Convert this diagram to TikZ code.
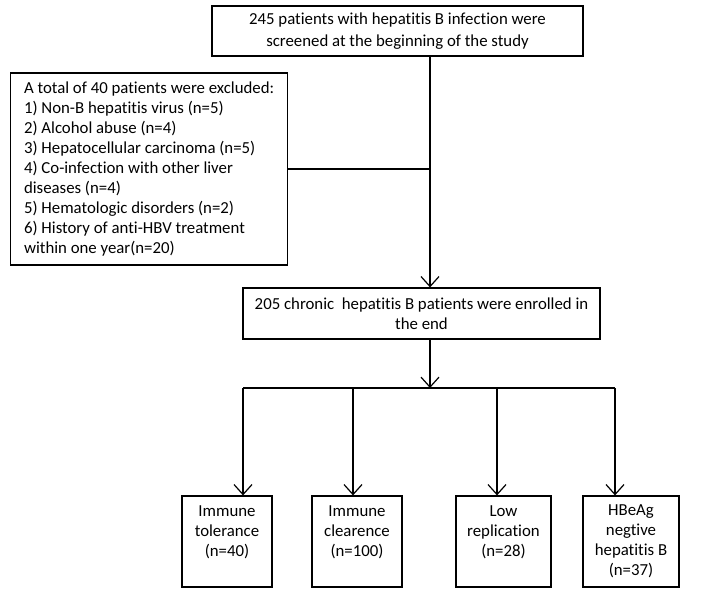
\documentclass[tikz,border=0pt]{standalone}
\usepackage{fontspec}
\setmainfont{Carlito}[Ligatures={NoCommon}]
\usetikzlibrary{arrows,arrows.meta,calc}
\tikzset{
>={Straight Barb[length=5pt,width=9pt]},
box/.style={draw,line width=0.6pt,inner sep=0pt,align=center},
freccia/.style={->,line width=0.6pt},
linea/.style={line width=0.6pt}}

\begin{document}
\begin{tikzpicture}[x=0.5pt,y=-0.5pt,font=\fontsize{8.4}{10}\selectfont]
\useasboundingbox (0,0) rectangle (701,601);

\node[box,minimum width=185.5pt,minimum height=25pt,font=\fontsize{8.4}{10.8}\selectfont] (1) at (397.5,31) {245 patients with hepatitis B infection were\\screened at the beginning of the study};
\node[box,align=left,inner xsep=5pt,minimum width=138.5pt,minimum height=96pt,anchor=west] (2) at (10,169) {A total of 40 patients were excluded:\\1) Non-B hepatitis virus (n=5)\\2) Alcohol abuse (n=4)\\3) Hepatocellular carcinoma (n=5)\\4) Co-infection with other liver\\diseases (n=4)\\5) Hematologic disorders (n=2)\\6) History of anti-HBV treatment\\within one year(n=20)};
\node[box,minimum width=178.5pt,minimum height=25.5pt] (3) at (421.5,313.5) {205 chronic\ \ hepatitis B patients were enrolled in\\the end};

% three-line boxes keep their text at the top, like the four-line one
\node[box,minimum width=45pt,minimum height=45.5pt] (4) at (227,541.5) {Immune\\tolerance\\(n=40)\\\mbox{}};
\node[box,minimum width=45pt,minimum height=45.5pt] (5) at (357,541.5) {Immune\\clearence\\(n=100)\\\mbox{}};
\node[box,minimum width=47.5pt,minimum height=45.5pt] (6) at (503.5,541.5) {Low\\replication\\(n=28)\\\mbox{}};
\node[box,minimum width=48pt,minimum height=45.5pt] (7) at (631,541.5) {HBeAg\\negtive\\hepatitis B\\(n=37)};

\coordinate (a) at (430,169);
\coordinate (b) at (430,388);
\coordinate (b1) at (243,388);
\coordinate (b2) at (353,388);
\coordinate (b3) at (497,388);
\coordinate (b4) at (615,388);

\draw[linea] (1.south -| a) -- (a);
\draw[linea] (2.east) -- (a);
\draw[freccia] (a) -- (3.north -| a);
\draw[freccia] (3.south -| b) -- (b);
\draw[linea] (b1) -- (b4);

\draw[freccia] (b1) -- (4.north -| b1);
\draw[freccia] (b2) -- (5.north -| b2);
\draw[freccia] (b3) -- (6.north -| b3);
\draw[freccia] (b4) -- (7.north -| b4);

\end{tikzpicture}
\end{document}
